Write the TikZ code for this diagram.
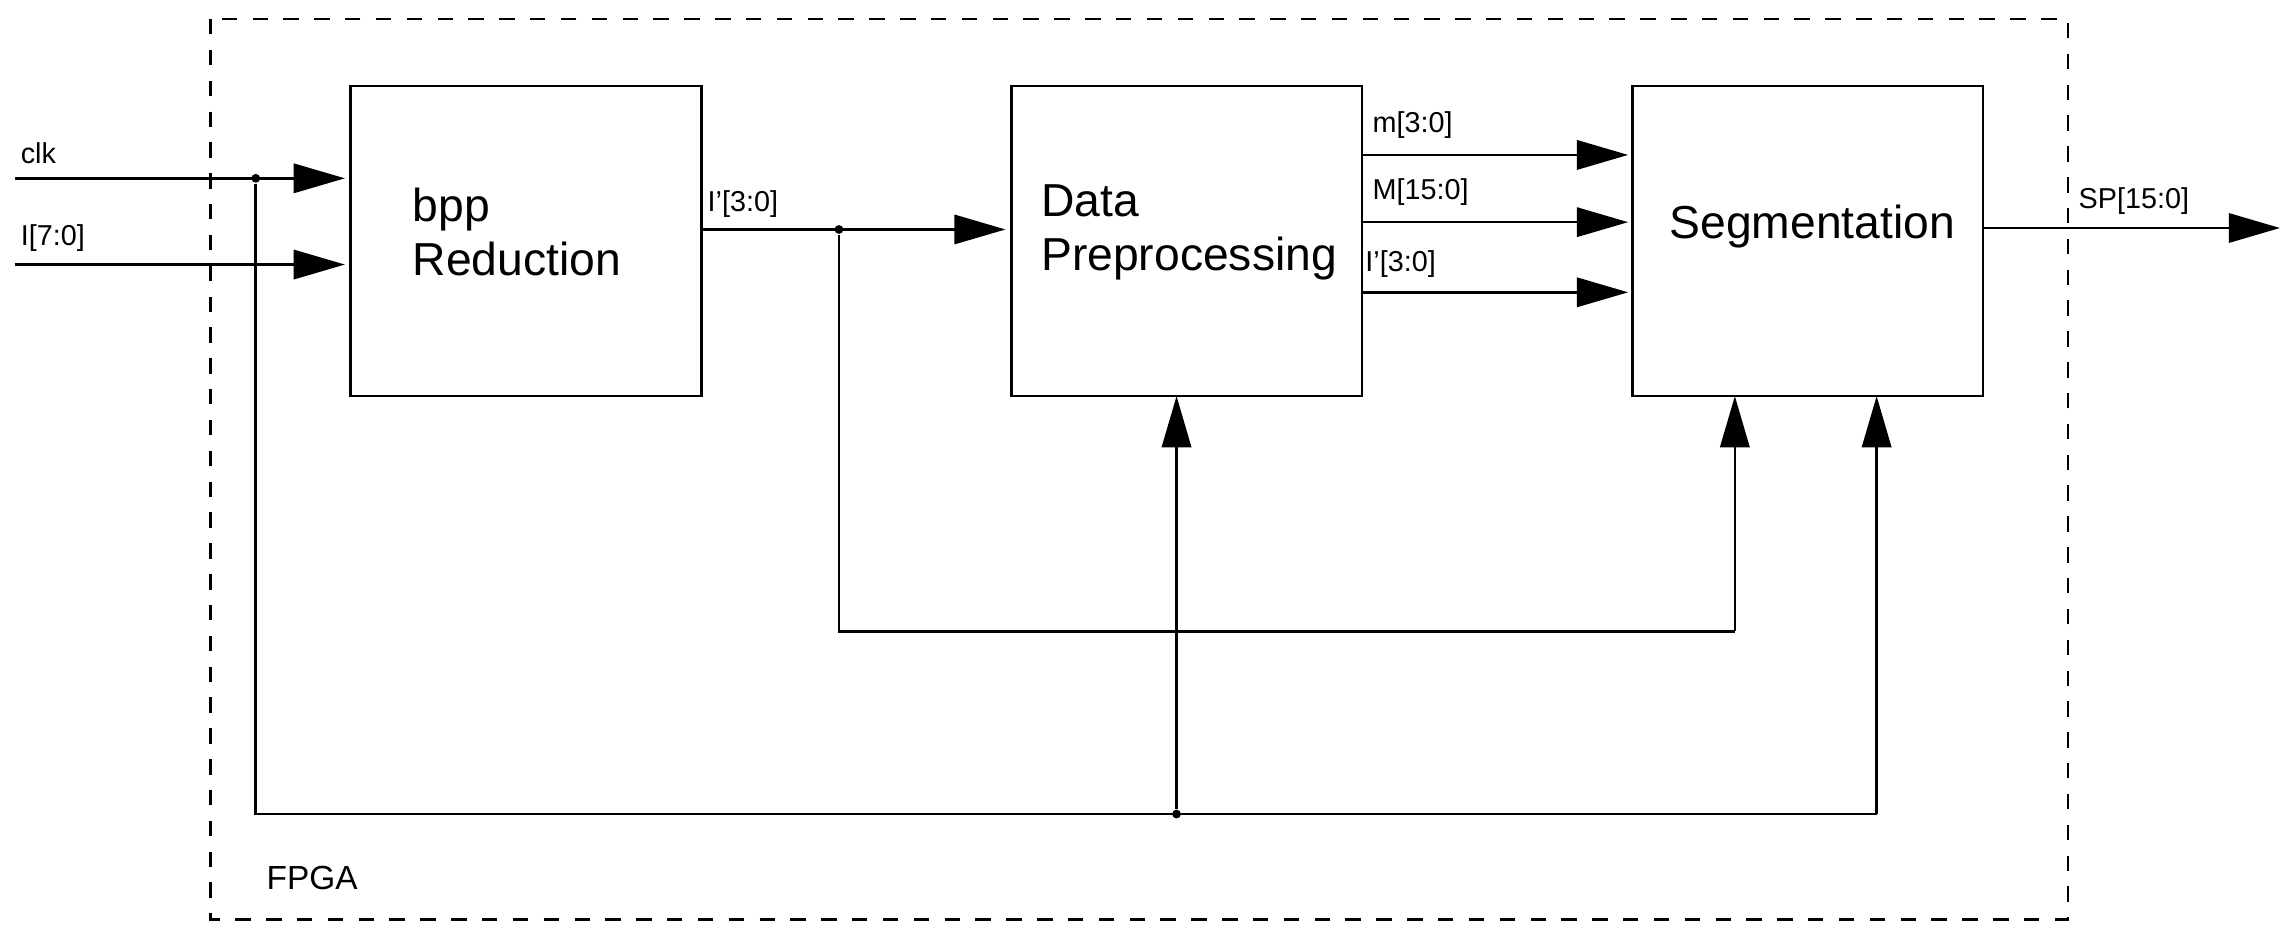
\documentclass[tikz,border=0pt]{standalone}
\usepackage{fontspec}
\setmainfont{Liberation Sans}
\usetikzlibrary{arrows.meta}
\begin{document}
\begin{tikzpicture}[x=0.01cm,y=-0.01cm,
  blk/.style={draw,line width=0.5pt,minimum width=240*0.01cm,minimum height=212*0.01cm,anchor=north west,inner sep=0},
  big/.style={font=\fontsize{9pt}{10.5pt}\selectfont,align=left},
  lbl/.style={font=\fontsize{5.6pt}{6pt}\selectfont,anchor=south west,inner sep=1pt},
  ar/.style={-{Triangle[length=0.35cm,width=0.2cm]},line width=0.5pt},
  ln/.style={line width=0.5pt},
  dot/.style={circle,fill,inner sep=0,minimum size=0.06cm}]
\useasboundingbox (0,0) rectangle (1560,642);
\draw[dashed,line width=0.5pt] (144,13) rectangle (1415,629);
\node[blk] (bpp) at (239,58) {};
\node[blk] (dp) at (691,58) {};
\node[blk] (seg) at (1116,58) {};
\node[big,anchor=west] (bppt) at (270,159) {bpp\\Reduction};
\node[big,anchor=west] (dpt) at (700,159) {Data\\Preprocessing};
\node[big] (segt) at (1240,155) {Segmentation};
\coordinate (clkin) at (10,122);
\coordinate (iin) at (10,181);
\node[dot] (d1) at (175,122) {};
\node[dot] (d2) at (574,157) {};
\node[dot] (d3) at (805,557) {};
\coordinate (c1) at (175,557);
\coordinate (c2) at (1284,557);
\coordinate (c3) at (574,432);
\coordinate (c4) at (1187,432);
\coordinate (spout) at (1560,156);
\draw[ar] (clkin) -- (236,122);
\draw[ar] (iin) -- (236,181);
\draw[ar] (479,157) -- (688,157);
\draw[ar] (931,106) -- (1114,106);
\draw[ar] (931,152) -- (1114,152);
\draw[ar] (931,200) -- (1114,200);
\draw[ar] (1356,156) -- (spout);
\draw[ln] (d1) -- (c1) -- (c2);
\draw[ar] (c2) -- (1284,271);
\draw[ar] (d3) -- (805,271);
\draw[ln] (d2) -- (c3) -- (c4);
\draw[ar] (c4) -- (1187,271);
\node[lbl] (lclk) at (10,116) {clk};
\node[lbl] (li) at (10,176) {I[7:0]};
\node[lbl] (lip) at (480,153) {I'[3:0]};
\node[lbl] (lm) at (935,99) {m[3:0]};
\node[lbl] (lM) at (935,145) {M[15:0]};
\node[lbl] (lip2) at (930,194) {I'[3:0]};
\node[lbl] (lsp) at (1418,151) {SP[15:0]};
\node[font=\fontsize{6.5pt}{7pt}\selectfont,anchor=west] (fpga) at (170,601) {FPGA};
\end{tikzpicture}
\end{document}
